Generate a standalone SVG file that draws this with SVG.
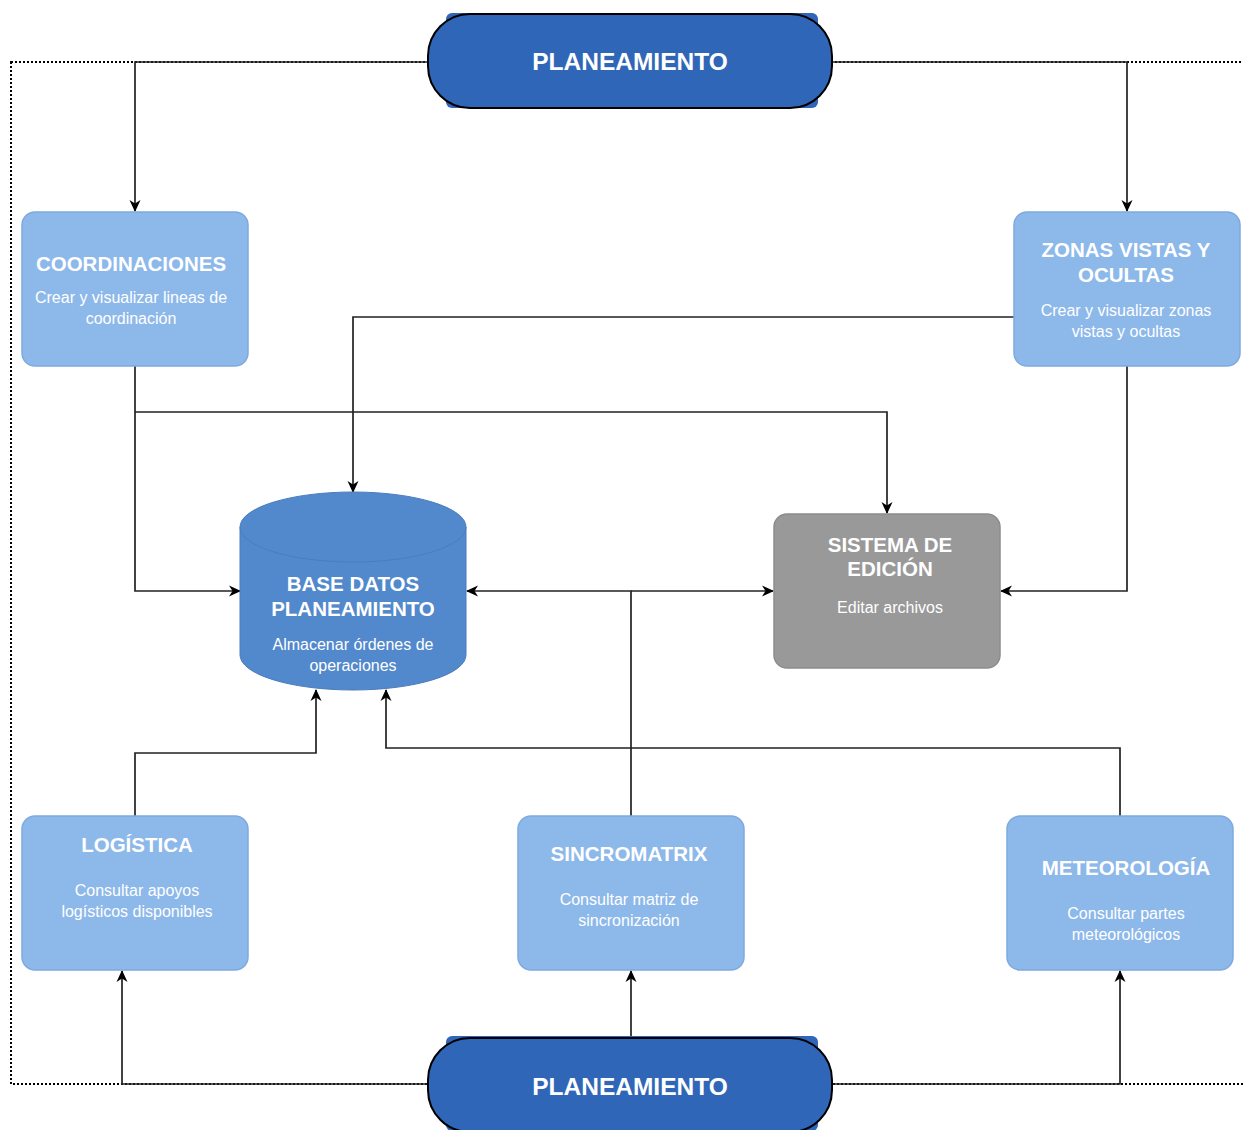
<svg xmlns="http://www.w3.org/2000/svg" width="1243" height="1130" viewBox="0 0 1243 1130">
<defs>
<marker id="arr" viewBox="0 0 12 12" refX="11" refY="6" markerWidth="12" markerHeight="12" markerUnits="userSpaceOnUse" orient="auto">
<path d="M0,0.5 L12,6 L0,11.5 L3.5,6 Z" fill="#000"/>
</marker>
<style>
.box{fill:#8db8ea;stroke:#7fa9df;stroke-width:1.5}
.gray{fill:#999999;stroke:#8c8c8c;stroke-width:1.5}
.pill{fill:#3066b8;stroke:#000;stroke-width:2}
.pillback{fill:#3066b8}
.db{fill:#5288cc;stroke:#4a7dbd;stroke-width:1}
.t{font-family:"Liberation Sans",Arial,sans-serif;fill:#fff;text-anchor:middle}
.h{font-weight:bold;font-size:20.5px}
.s{font-size:16px}
.p{font-weight:bold;font-size:24.5px}
.c2{fill:none;stroke:#222;stroke-width:1.7;marker-end:url(#arr)}
.dot{fill:none;stroke:#000;stroke-width:2;stroke-dasharray:2 2}
</style>
</defs>
<rect class="dot" x="11" y="62" width="1245" height="1022"/>
<g id="connectors">
<path class="c2" d="M428,62 H135 V211"/>
<path class="c2" d="M832,62 H1127 V211"/>
<path class="c2" d="M135,366 V591 H240"/>
<path class="c2" d="M135,412 H887 V513"/>
<path class="c2" d="M1014,317 H353 V492"/>
<path class="c2" d="M1127,366 V591 H1001"/>
<path class="c2" d="M631,816 V591 H467"/>
<path class="c2" d="M631,591 H773"/>
<path class="c2" d="M135,816 V753 H316 V690"/>
<path class="c2" d="M1120,816 V748 H386 V690"/>
<path class="c2" d="M631,1038 V971"/>
<path class="c2" d="M428,1084 H122 V971"/>
<path class="c2" d="M832,1084 H1120 V971"/>
</g>
<g id="plan-top">
<rect class="pillback" x="446" y="13" width="372" height="95" rx="6"/>
<rect class="pill" x="428" y="14" width="404" height="94" rx="42"/>
<text class="t p" x="630" y="70">PLANEAMIENTO</text>
</g>
<g id="coordinaciones">
<rect class="box" x="22" y="212" width="226" height="154" rx="13"/>
<text class="t h" x="131" y="271">COORDINACIONES</text>
<text class="t s" x="131" y="303">Crear y visualizar lineas de</text>
<text class="t s" x="131" y="324">coordinación</text>
</g>
<g id="zonas">
<rect class="box" x="1014" y="212" width="226" height="154" rx="13"/>
<text class="t h" x="1126" y="257">ZONAS VISTAS Y</text>
<text class="t h" x="1126" y="282">OCULTAS</text>
<text class="t s" x="1126" y="316">Crear y visualizar zonas</text>
<text class="t s" x="1126" y="337">vistas y ocultas</text>
</g>
<g id="basedatos">
<path class="db" d="M240,527 A113,35 0 0 1 466,527 V655 A113,35 0 0 1 240,655 Z"/>
<path fill="none" stroke="#4a7dbd" stroke-width="1" d="M240,527 A113,35 0 0 0 466,527"/>
<text class="t h" x="353" y="591">BASE DATOS</text>
<text class="t h" x="353" y="616">PLANEAMIENTO</text>
<text class="t s" x="353" y="650">Almacenar órdenes de</text>
<text class="t s" x="353" y="671">operaciones</text>
</g>
<g id="sistema">
<rect class="gray" x="774" y="514" width="226" height="154" rx="13"/>
<text class="t h" x="890" y="552">SISTEMA DE</text>
<text class="t h" x="890" y="576">EDICIÓN</text>
<text class="t s" x="890" y="613">Editar archivos</text>
</g>
<g id="logistica">
<rect class="box" x="22" y="816" width="226" height="154" rx="13"/>
<text class="t h" x="137" y="852">LOGÍSTICA</text>
<text class="t s" x="137" y="896">Consultar apoyos</text>
<text class="t s" x="137" y="917">logísticos disponibles</text>
</g>
<g id="sincromatrix">
<rect class="box" x="518" y="816" width="226" height="154" rx="13"/>
<text class="t h" x="629" y="861">SINCROMATRIX</text>
<text class="t s" x="629" y="905">Consultar matriz de</text>
<text class="t s" x="629" y="926">sincronización</text>
</g>
<g id="meteorologia">
<rect class="box" x="1007" y="816" width="226" height="154" rx="13"/>
<text class="t h" x="1126" y="875">METEOROLOGÍA</text>
<text class="t s" x="1126" y="919">Consultar partes</text>
<text class="t s" x="1126" y="940">meteorológicos</text>
</g>
<g id="plan-bottom">
<rect class="pillback" x="446" y="1036" width="372" height="95" rx="6"/>
<rect class="pill" x="428" y="1038" width="404" height="94" rx="42"/>
<text class="t p" x="630" y="1095">PLANEAMIENTO</text>
</g>
</svg>
